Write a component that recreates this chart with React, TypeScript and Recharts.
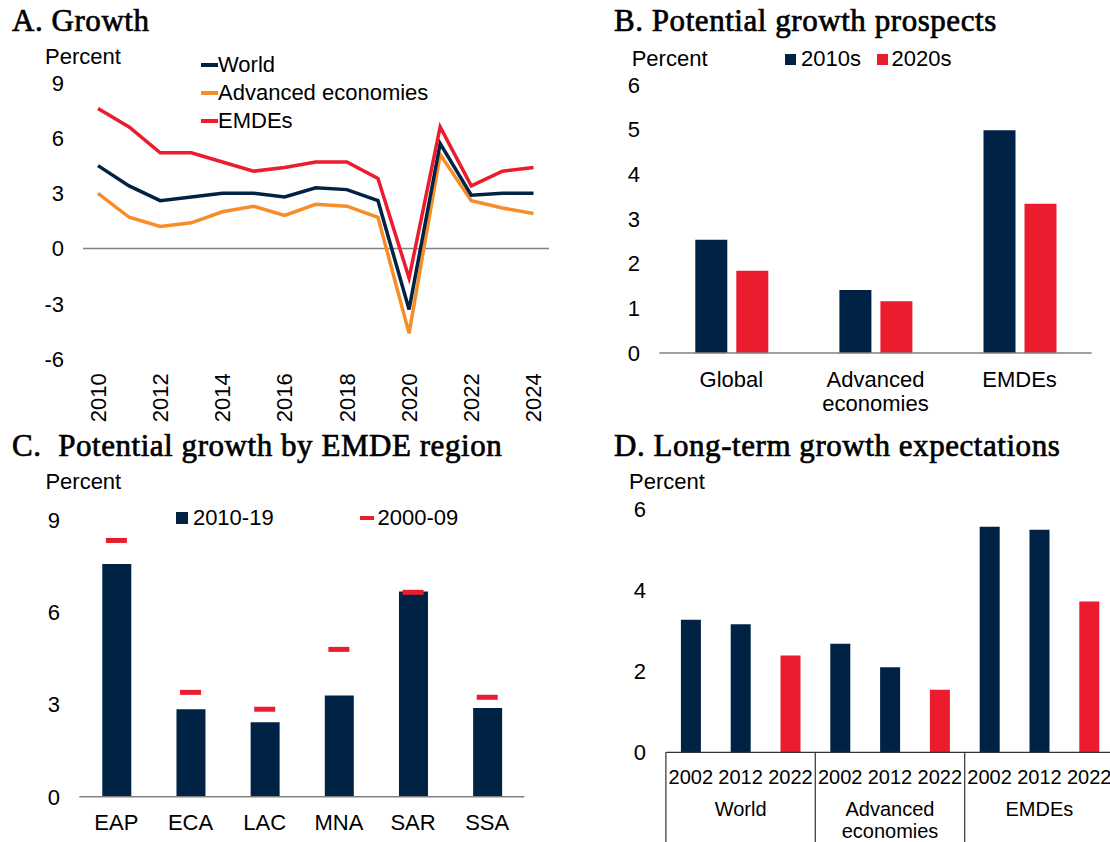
import React from 'react';
import { LineChart, Line, BarChart, Bar, ComposedChart, XAxis, YAxis, ReferenceLine, Cell } from 'recharts';

const NAVY = '#002345';
const RED = '#EB1C2D';
const ORANGE = '#F78D28';
const GRAY = '#808080';
const SANS = '"Liberation Sans", Arial, sans-serif';
const SERIF = '"Liberation Serif", "Times New Roman", serif';

// Panel A
const growthYears = ['2010', '2011', '2012', '2013', '2014', '2015', '2016', '2017', '2018', '2019', '2020', '2021', '2022', '2023', '2024'];
const worldGrowth = [4.5, 3.4, 2.6, 2.8, 3.0, 3.0, 2.8, 3.3, 3.2, 2.6, -3.3, 5.7, 2.9, 3.0, 3.0];
const advancedGrowth = [3.0, 1.7, 1.2, 1.4, 2.0, 2.3, 1.8, 2.4, 2.3, 1.7, -4.6, 5.1, 2.6, 2.2, 1.9];
const emdeGrowth = [7.6, 6.6, 5.2, 5.2, 4.7, 4.2, 4.4, 4.7, 4.7, 3.8, -1.6, 6.6, 3.4, 4.2, 4.4];
const growthTicks = [-6, -3, 0, 3, 6, 9];

// Panel B
const prospectCats = ['Global', 'Advanced economies', 'EMDEs'];
const potential2010s = [2.53, 1.41, 4.98];
const potential2020s = [1.84, 1.16, 3.34];
const prospectTicks = [0, 1, 2, 3, 4, 5, 6];

// Panel C
const regions = ['EAP', 'ECA', 'LAC', 'MNA', 'SAR', 'SSA'];
const region2010_19 = [7.58, 2.85, 2.43, 3.3, 6.69, 2.89];
const region2000_09 = [8.35, 3.4, 2.85, 4.8, 6.66, 3.24];
const regionTicks = [0, 3, 6, 9];

// Panel D
const ltGroups = ['World', 'Advanced economies', 'EMDEs'];
const ltYears = ['2002', '2012', '2022'];
const ltValues = [3.27, 3.16, 2.39, 2.68, 2.1, 1.54, 5.56, 5.49, 3.72];
const ltTicks = [0, 2, 4, 6];

const growthData = growthYears.map((y, i) => ({
  year: y,
  world: worldGrowth[i],
  adv: advancedGrowth[i],
  emde: emdeGrowth[i],
}));
const prospectData = prospectCats.map((c, i) => ({ cat: c, a: potential2010s[i], b: potential2020s[i] }));
const regionData = regions.map((r, i) => ({ region: r, recent: region2010_19[i], past: region2000_09[i] }));
const ltData: { key: string; year: string; group: string; value: number; latest: boolean }[] = [];
ltGroups.forEach((g, gi) => {
  ltYears.forEach((y, yi) => {
    ltData.push({ key: g + y, year: y, group: g, value: ltValues[gi * 3 + yi], latest: yi === 2 });
  });
});

const tickStyle = { fontSize: 22, fill: '#000', fontFamily: SANS };

const RotTick = (props: any) => {
  const { x, y, payload } = props;
  return (
    <text x={x} y={y} transform={`rotate(-90 ${x} ${y})`} textAnchor="end" dy="0.35em" fontSize={22} fill="#000" fontFamily={SANS}>
      {payload.value}
    </text>
  );
};

const WrapTick = (props: any) => {
  const { x, y, payload } = props;
  const words: string[] = payload.value === 'Advanced economies' ? ['Advanced', 'economies'] : [payload.value];
  return (
    <g>
      {words.map((w, i) => (
        <text key={i} x={x} y={y + i * 24} textAnchor="middle" dy="0.35em" fontSize={22} fill="#000" fontFamily={SANS}>
          {w}
        </text>
      ))}
    </g>
  );
};

const RegionTick = (props: any) => {
  const { x, y, payload } = props;
  return (
    <text x={x} y={y} textAnchor="middle" dy="0.35em" fontSize={22} fill="#000" fontFamily={SANS}>
      {payload.value}
    </text>
  );
};

const MultiTick = (props: any) => {
  const { x, y, index } = props;
  const half = props.payload && typeof props.payload.offset === 'number' && props.payload.offset > 0 ? props.payload.offset : 24.9;
  const item = ltData[index];
  const groupWords: string[] = item.group === 'Advanced economies' ? ['Advanced', 'economies'] : [item.group];
  return (
    <g>
      <text x={x} y={y + 24.4} textAnchor="middle" dy="0.35em" fontSize={20} fill="#000" fontFamily={SANS}>
        {item.year}
      </text>
      {index % 3 === 1 &&
        groupWords.map((w, i) => (
          <text key={i} x={x} y={y + 56.7 + i * 22} textAnchor="middle" dy="0.35em" fontSize={20} fill="#000" fontFamily={SANS}>
            {w}
          </text>
        ))}
      {index % 3 === 0 && <line x1={x - half} x2={x - half} y1={y} y2={y + 120} stroke="#333" strokeWidth={1.2} />}
      {index === ltData.length - 1 && <line x1={x + half} x2={x + half} y1={y} y2={y + 120} stroke="#333" strokeWidth={1.2} />}
    </g>
  );
};

const DashDot = (props: any) => {
  const { cx, cy } = props;
  if (cx == null || cy == null) return null;
  return <rect x={cx - 10.5} y={cy - 2.5} width={21} height={5} fill={RED} />;
};

const abs = (left: number, top: number): React.CSSProperties => ({ position: 'absolute', left, top });

const Title = ({ left, top, children }: { left: number; top: number; children: React.ReactNode }) => (
  <div
    style={{
      ...abs(left, top),
      fontFamily: SERIF,
      fontSize: 31,
      lineHeight: '31px',
      letterSpacing: '0.55px',
      color: '#000',
      whiteSpace: 'pre',
      WebkitTextStroke: '0.7px #000',
    }}
  >
    {children}
  </div>
);

const Label = ({ left, cy, size = 22, children }: { left: number; cy: number; size?: number; children: React.ReactNode }) => (
  <div style={{ ...abs(left, cy - size / 2), fontFamily: SANS, fontSize: size, lineHeight: `${size}px`, color: '#000', whiteSpace: 'pre' }}>
    {children}
  </div>
);

export default function App() {
  return (
    <div style={{ position: 'absolute', left: 0, top: 0, width: 1110, height: 842, overflow: 'hidden', background: '#fff' }}>
      {/* Panel A */}
      <div style={abs(0, 0)}>
        <LineChart width={560} height={430} data={growthData} margin={{ top: 82.7, right: 11, bottom: 0, left: 0 }}>
          <XAxis
            dataKey="year"
            interval={1}
            axisLine={false}
            tickLine={false}
            tickSize={0}
            tickMargin={14}
            height={70.8}
            padding={{ left: 15, right: 15.5 }}
            tick={<RotTick />}
          />
          <YAxis
            domain={[-6, 9]}
            ticks={growthTicks}
            axisLine={false}
            tickLine={false}
            tickSize={0}
            tickMargin={19}
            width={83}
            tick={tickStyle}
          />
          <ReferenceLine y={0} stroke={GRAY} strokeWidth={1.5} />
          <Line dataKey="adv" stroke={ORANGE} strokeWidth={3.5} dot={false} isAnimationActive={false} />
          <Line dataKey="world" stroke={NAVY} strokeWidth={3.5} dot={false} isAnimationActive={false} />
          <Line dataKey="emde" stroke={RED} strokeWidth={3.5} dot={false} isAnimationActive={false} />
        </LineChart>
      </div>
      <Title left={12} top={4.7}>A. Growth</Title>
      <Label left={45} cy={56.7}>Percent</Label>
      {[
        { name: 'World', color: NAVY, cy: 65 },
        { name: 'Advanced economies', color: ORANGE, cy: 93.3 },
        { name: 'EMDEs', color: RED, cy: 120.7 },
      ].map((it) => (
        <React.Fragment key={it.name}>
          <div style={{ ...abs(200.7, it.cy - 2), width: 17.2, height: 4, background: it.color }} />
          <Label left={218} cy={it.cy}>{it.name}</Label>
        </React.Fragment>
      ))}

      {/* Panel B */}
      <div style={abs(555, 0)}>
        <BarChart width={555} height={430} data={prospectData} margin={{ top: 84.7, right: 18.4, bottom: 0, left: 0 }} barSize={32} barGap={9}>
          <XAxis
            dataKey="cat"
            axisLine={{ stroke: GRAY, strokeWidth: 1.5 }}
            tickLine={false}
            tickSize={0}
            tickMargin={26}
            height={77}
            tick={<WrapTick />}
          />
          <YAxis
            domain={[0, 6]}
            ticks={prospectTicks}
            axisLine={false}
            tickLine={false}
            tickSize={0}
            tickMargin={19.3}
            width={104.3}
            tick={tickStyle}
          />
          <Bar dataKey="a" fill={NAVY} isAnimationActive={false} />
          <Bar dataKey="b" fill={RED} isAnimationActive={false} />
        </BarChart>
      </div>
      <Title left={614} top={4.7}>B. Potential growth prospects</Title>
      <Label left={631.7} cy={59.3}>Percent</Label>
      <div style={{ ...abs(785, 54), width: 11, height: 11, background: NAVY }} />
      <Label left={801} cy={59.3}>2010s</Label>
      <div style={{ ...abs(876.8, 54), width: 11, height: 11, background: RED }} />
      <Label left={891.6} cy={59.3}>2020s</Label>

      {/* Panel C */}
      <div style={abs(0, 430)}>
        <ComposedChart width={555} height={412} data={regionData} margin={{ top: 90.5, right: 30.7, bottom: 0, left: 0 }} barSize={29}>
          <XAxis
            dataKey="region"
            axisLine={{ stroke: GRAY, strokeWidth: 1.5 }}
            tickLine={false}
            tickSize={0}
            tickMargin={26}
            height={45.3}
            tick={<RegionTick />}
          />
          <YAxis
            domain={[0, 9]}
            ticks={regionTicks}
            axisLine={false}
            tickLine={false}
            tickSize={0}
            tickMargin={19.3}
            width={79.3}
            tick={tickStyle}
          />
          <Bar dataKey="recent" fill={NAVY} isAnimationActive={false} />
          <Line dataKey="past" stroke="none" dot={<DashDot />} activeDot={false} isAnimationActive={false} />
        </ComposedChart>
      </div>
      <Title left={12} top={430}>{'C.  Potential growth by EMDE region'}</Title>
      <Label left={45.4} cy={481.7}>Percent</Label>
      <div style={{ ...abs(176.4, 512.3), width: 11.5, height: 11.5, background: NAVY }} />
      <Label left={192.9} cy={518}>2010-19</Label>
      <div style={{ ...abs(360, 516), width: 13.6, height: 4, background: RED }} />
      <Label left={377.5} cy={518}>2000-09</Label>

      {/* Panel D */}
      <div style={abs(555, 430)}>
        <BarChart width={560} height={412} data={ltData} margin={{ top: 79, right: 0.9, bottom: 0, left: 0 }} barSize={20}>
          <XAxis
            dataKey="key"
            axisLine={{ stroke: '#333', strokeWidth: 1.2 }}
            tickLine={false}
            tickSize={0}
            tickMargin={0}
            height={89.7}
            interval={0}
            tick={<MultiTick />}
          />
          <YAxis
            domain={[0, 6]}
            ticks={ltTicks}
            axisLine={false}
            tickLine={false}
            tickSize={0}
            tickMargin={19.9}
            width={110.9}
            tick={tickStyle}
          />
          <Bar dataKey="value" isAnimationActive={false}>
            {ltData.map((d) => (
              <Cell key={d.key} fill={d.latest ? RED : NAVY} />
            ))}
          </Bar>
        </BarChart>
      </div>
      <Title left={614} top={430}>D. Long-term growth expectations</Title>
      <Label left={629} cy={481.7}>Percent</Label>
    </div>
  );
}
